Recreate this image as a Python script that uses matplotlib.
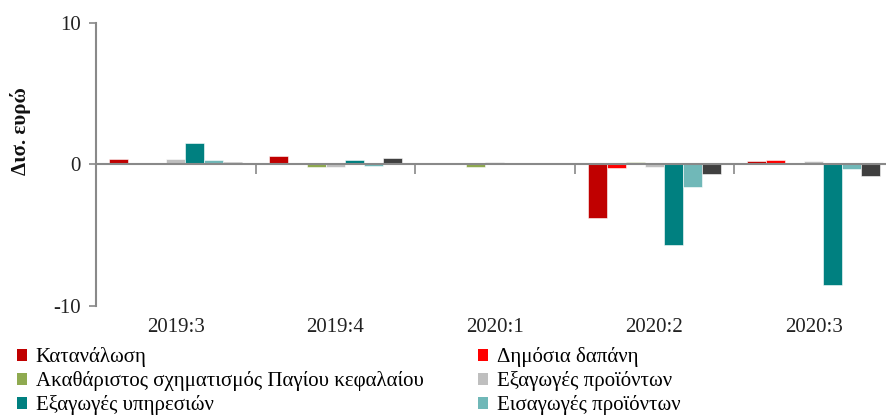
import numpy as np
import matplotlib
matplotlib.use("Agg")
import matplotlib.pyplot as plt
from matplotlib.patches import Patch

plt.rcParams["font.family"] = ["Liberation Serif", "DejaVu Serif"]
plt.rcParams["axes.unicode_minus"] = False

quarters = ["2019:3", "2019:4", "2020:1", "2020:2", "2020:3"]
series_names = [
    "Κατανάλωση",
    "Δημόσια δαπάνη",
    "Ακαθάριστος σχηματισμός Παγίου κεφαλαίου",
    "Εξαγωγές προϊόντων",
    "Εξαγωγές υπηρεσιών",
    "Εισαγωγές προϊόντων",
    "Εισαγωγές υπηρεσιών",
]
consumption = [0.4, 0.6, 0.05, -3.8, 0.28]
public_spending = [0.0, 0.0, 0.1, -0.25, 0.35]
gfcf = [0.0, -0.2, -0.2, 0.2, 0.0]
exports_goods = [0.4, -0.15, 0.2, -0.2, 0.28]
exports_services = [1.5, 0.3, 0.0, -5.7, -8.5]
imports_goods = [0.33, -0.1, 0.0, -1.6, -0.35]
imports_services = [0.18, 0.45, 0.1, -0.7, -0.8]
values = [consumption, public_spending, gfcf, exports_goods,
          exports_services, imports_goods, imports_services]
colors = ["#C00000", "#FF0000", "#8FAA50", "#BFBFBF", "#008080", "#70B8B8", "#404040"]

W, H = 887, 416
fig = plt.figure(figsize=(W / 100, H / 100), dpi=100)
ax = fig.add_axes([96 / W, (H - 306) / H, 797.5 / W, 283 / H])

x = np.arange(len(quarters))
bw = 0.119
for i, (vals, col) in enumerate(zip(values, colors)):
    ax.bar(x + (i - 3) * bw, vals, width=bw, color=col, edgecolor="white", linewidth=0.4, zorder=2)

ax.set_xlim(-0.5, len(quarters) - 0.5)
ax.set_ylim(-10, 10)
ax.set_yticks([-10, 0, 10])
ax.tick_params(axis="y", direction="out", length=5, width=1.2, color="#898989",
               labelsize=15, pad=6, labelcolor="#222222")

for s in ["top", "right"]:
    ax.spines[s].set_visible(False)
ax.spines["left"].set_color("#898989")
ax.spines["left"].set_linewidth(1.5)
ax.spines["bottom"].set_position(("data", 0))
ax.spines["bottom"].set_color("#898989")
ax.spines["bottom"].set_linewidth(1.5)
ax.spines["bottom"].set_zorder(3)
ax.set_xticks(x[:-1] + 0.5)
ax.set_xticklabels([])
ax.tick_params(axis="x", direction="out", length=7, width=1.2, color="#898989")

for xi, q in zip(x, quarters):
    ax.text(xi, -0.075, q, transform=ax.get_xaxis_transform(), ha="center", va="center",
            fontsize=15, color="#222222")

fig.text(21 / W, 1 - 131 / H, "Δισ. ευρώ", rotation=90, ha="center", va="center",
         fontsize=15, fontweight="bold", color="#111111")

# legend fills row by row in the reference: reorder for column-major layout
order = [0, 2, 4, 1, 3, 5]
handles = [Patch(facecolor=colors[k], edgecolor="none") for k in order]
labels = [series_names[k] for k in order]
fig.legend(handles, labels, ncol=2, loc="upper left",
           bbox_to_anchor=(17 / W, 1 - 347 / H), frameon=False, fontsize=15,
           handlelength=0.5, handleheight=0.5, handletextpad=0.4,
           labelspacing=0.2, columnspacing=2.6, borderaxespad=0, borderpad=0)

fig.savefig("out.png", dpi=100)
